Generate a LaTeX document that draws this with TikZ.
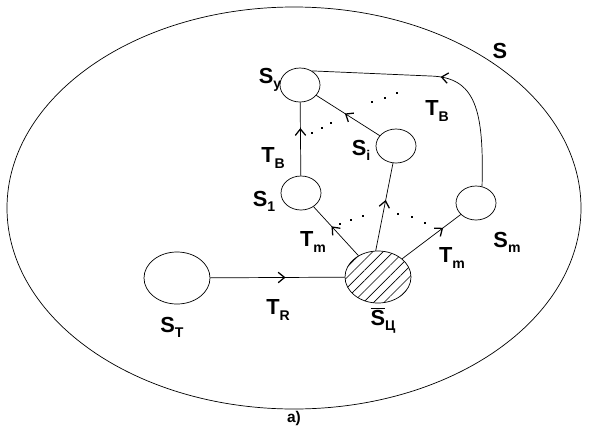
\documentclass[tikz,border=0pt]{standalone}
\usepackage{fontspec}
\setmainfont{Liberation Sans}
\usetikzlibrary{arrows.meta,decorations.markings,patterns.meta,shapes.geometric}
\newcommand{\lsub}[1]{\raisebox{-0.45ex}{\fontsize{10}{10}\selectfont #1}}
\tikzset{
  st/.style={draw, ellipse, inner sep=0pt, minimum width=1cm, minimum height=0.85cm},
  bst/.style={draw, ellipse, inner sep=0pt, minimum width=1.65cm, minimum height=1.3cm},
  lbl/.style={font=\fontsize{15.5}{16}\selectfont\bfseries, inner sep=0pt},
  marr/.style={decoration={markings, mark=at position #1 with {\arrow[line width=0.9pt]{Straight Barb[length=1.6mm,width=2.6mm]}}}, postaction={decorate}},
  marr/.default=0.55,
  dot/.style={fill, inner sep=0pt, minimum size=1.5pt},
}

\begin{document}
\begin{tikzpicture}[x=0.025cm, y=-0.025cm, line width=0.5pt]
\useasboundingbox (0,0) rectangle (591,428);

% whole set
\draw (294,208) ellipse [x radius=287, y radius=201];
\node[lbl] (s) at (500,51) {S};
\node[font=\fontsize{11}{12}\selectfont\bfseries] (cap) at (294,418) {a)};

% states
\node[st] (sy) at (300,85) {};
\node[st] (s1) at (301,193) {};
\node[st] (si) at (396,146) {};
\node[st] (sm) at (476,203) {};
\node[bst] (sT) at (177,278) {};
\node[bst, pattern={Lines[angle=45, distance=5.2pt, line width=0.45pt]}] (sc) at (378,277) {};

% labels
\node[lbl] at (270,80) {S\lsub{у}};
\node[lbl] at (264,201) {S\lsub{1}};
\node[lbl] at (361,150) {S\lsub{i}};
\node[lbl] at (507,242) {S\lsub{m}};
\node[lbl] at (172,327) {S\lsub{Т}};
\node[lbl] at (383,320) {$\overline{\mbox{S}\vphantom{\big|}}$\lsub{Ц}};
\node[lbl] at (437,111) {T\lsub{В}};
\node[lbl] at (273,158) {T\lsub{В}};
\node[lbl] at (313,242) {T\lsub{m}};
\node[lbl] at (452,258) {T\lsub{m}};
\node[lbl] at (278,310) {T\lsub{R}};

% transitions
\draw[marr=0.56] (sT) -- (sc);
\draw[marr=0.6] (sc) -- (s1);
\draw[marr=0.58] (sc.95) -- (si.260);
\draw[marr=0.7] (sc) -- (sm);
\draw[marr=0.65] (s1) -- (sy);
\draw[marr=0.55] (si) -- (sy);
\draw[marr=0.5] (sm.70) .. controls (484,110) and (476,77) .. (430,76) -- (sy.50);

% dots
\foreach \p in {(312,133),(322,128),(331,123),(372,102),(385,98),(397,93),
                (340,224),(351,220),(363,216),(398,214),(412,217),(425,223)}
  \node[dot] at \p {};

\end{tikzpicture}
\end{document}
